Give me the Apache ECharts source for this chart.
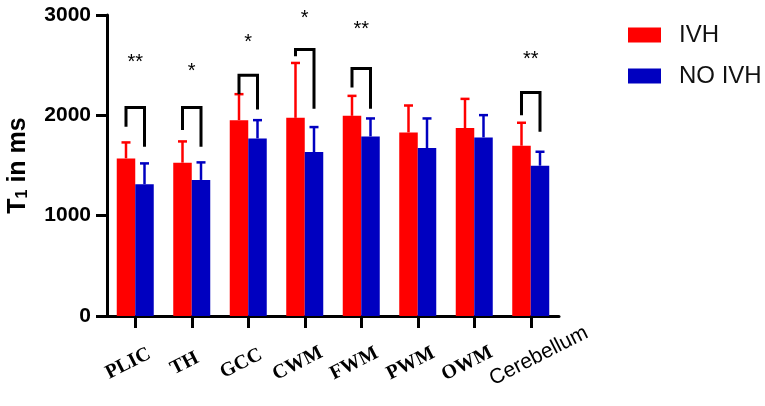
<!DOCTYPE html>
<html>
<head>
<meta charset="utf-8">
<script src="https://cdn.jsdelivr.net/npm/echarts@6/dist/echarts.min.js"></script>
<style>
  html, body { margin: 0; padding: 0; background: #fff; }
  #main { width: 765px; height: 406px; }
</style>
</head>
<body>
<div id="main"></div>
<script>
// regions along the x axis
var regions = ['PLIC', 'TH', 'GCC', 'CWM', 'FWM', 'PWM', 'OWM', 'Cerebellum'];

// mean T1 (ms) and top of the SD whisker
var ivhMean   = [1571, 1528, 1952, 1975, 1995, 1830, 1873, 1697];
var ivhUpper  = [1730, 1740, 2211, 2522, 2194, 2098, 2164, 1926];
var noMean    = [1313, 1356, 1770, 1634, 1790, 1674, 1780, 1498];
var noUpper   = [1521, 1531, 1952, 1883, 1969, 1969, 2002, 1637];

// significance brackets: category index, bracket top, left leg end, right leg end, star height, stars
var sigIndex  = [0, 1, 2, 3, 4, 7];
var sigTop    = [2078, 2078, 2400, 2655, 2466, 2227];
var sigLeft   = [1886, 1853, 2211, 2589, 2277, 2002];
var sigRight  = [1687, 1687, 2058, 2065, 2065, 1836];
var sigStarY  = [2526, 2433, 2731, 2963, 2854, 2556];
var sigStars  = ['**', '*', '*', '*', '**', '**'];

var yTicks = [0, 1000, 2000, 3000];

var RED = '#ff0000', BLUE = '#0000c0';
var GAP = 0.345; // barCategoryGap as a fraction

function barW(api) {
  return api.size([1, 0])[0] * (1 - GAP) / 2;
}

function errorSeries(name, means, uppers, color, side) {
  return {
    type: 'custom',
    name: name + ' SD',
    z: 1,
    data: means.map(function (m, i) { return [i, m, uppers[i]]; }),
    renderItem: function (params, api) {
      var w = barW(api);
      var base = api.coord([api.value(0), api.value(1)]);
      var top = api.coord([api.value(0), api.value(2)]);
      var x = base[0] + side * w / 2;
      var s = { stroke: color, lineWidth: 2.5 };
      return {
        type: 'group',
        children: [
          { type: 'line', shape: { x1: x, y1: base[1], x2: x, y2: top[1] }, style: s },
          { type: 'line', shape: { x1: x - 4.5, y1: top[1], x2: x + 4.5, y2: top[1] }, style: s }
        ]
      };
    }
  };
}

var chart = echarts.init(document.getElementById('main'));

var option = {
  animation: false,
  backgroundColor: '#fff',
  grid: { left: 107, right: 206, top: 15, bottom: 90, containLabel: false, outerBoundsMode: 'none' },
  legend: {
    orient: 'vertical',
    left: 628,
    top: 23,
    padding: 0,
    itemWidth: 33,
    itemHeight: 15,
    itemGap: 17,
    icon: 'rect',
    data: ['IVH', 'NO IVH'],
    textStyle: {
      fontFamily: 'Liberation Sans, Arial, sans-serif',
      fontSize: 24,
      color: '#111',
      padding: [0, 0, 0, 13]
    }
  },
  xAxis: {
    type: 'category',
    data: regions,
    axisLine: { show: true, lineStyle: { color: '#000', width: 3 } },
    axisTick: { show: true, alignWithLabel: true, length: 12, lineStyle: { color: '#000', width: 3 } },
    axisLabel: {
      interval: 0,
      rotate: 27,
      margin: 44,
      align: 'center',
      verticalAlign: 'middle',
      formatter: function (v) {
        return v === 'Cerebellum' ? '{c|' + v + '}' : '{s|' + v + '}';
      },
      rich: {
        s: { fontFamily: 'Liberation Serif, Times New Roman, serif', fontWeight: 'bold', fontSize: 20, color: '#000', padding: [0, 16, 0, 0] },
        c: { fontFamily: 'Liberation Sans, Arial, sans-serif', fontWeight: 'normal', fontSize: 21, color: '#000', padding: [0, 0, 0, 18] }
      }
    },
    splitLine: { show: false }
  },
  yAxis: {
    type: 'value',
    min: yTicks[0],
    max: yTicks[yTicks.length - 1],
    interval: 1000,
    name: '{t|T}{sub|1}{t| in ms}',
    nameLocation: 'middle',
    nameGap: 76,
    nameTextStyle: {
      rich: {
        t: { fontFamily: 'Liberation Sans, Arial, sans-serif', fontWeight: 'bold', fontSize: 25, color: '#000' },
        sub: { fontFamily: 'Liberation Sans, Arial, sans-serif', fontWeight: 'bold', fontSize: 16, color: '#000', verticalAlign: 'bottom', padding: [10, 0, 0, 0] }
      }
    },
    axisLine: { show: true, lineStyle: { color: '#000', width: 3 } },
    axisTick: { show: true, length: 11, lineStyle: { color: '#000', width: 3 } },
    axisLabel: {
      margin: 16,
      fontFamily: 'Liberation Sans, Arial, sans-serif',
      fontWeight: 'bold',
      fontSize: 21,
      color: '#000',
      formatter: function (v) { return String(v); }
    },
    splitLine: { show: false }
  },
  series: [
    {
      name: 'IVH',
      type: 'bar',
      data: ivhMean,
      barGap: '0%',
      barCategoryGap: (GAP * 100) + '%',
      itemStyle: { color: RED },
      z: 2
    },
    {
      name: 'NO IVH',
      type: 'bar',
      data: noMean,
      itemStyle: { color: BLUE },
      z: 2
    },
    errorSeries('IVH', ivhMean, ivhUpper, RED, -1),
    errorSeries('NO IVH', noMean, noUpper, BLUE, 1),
    {
      type: 'custom',
      name: 'significance',
      z: 3,
      data: sigIndex.map(function (c, i) { return [c, sigTop[i], sigLeft[i], sigRight[i], sigStarY[i], i]; }),
      renderItem: function (params, api) {
        var w = barW(api);
        var c = api.value(0);
        var top = api.coord([c, api.value(1)]);
        var lb = api.coord([c, api.value(2)]);
        var rb = api.coord([c, api.value(3)]);
        var star = api.coord([c, api.value(4)]);
        var xl = top[0] - w / 2, xr = top[0] + w / 2;
        return {
          type: 'group',
          children: [
            {
              type: 'polyline',
              shape: { points: [[xl, lb[1]], [xl, top[1]], [xr, top[1]], [xr, rb[1]]] },
              style: { stroke: '#000', lineWidth: 3, fill: null }
            },
            {
              type: 'text',
              x: star[0],
              y: star[1],
              style: {
                text: sigStars[api.value(5)],
                fontSize: 20,
                fontFamily: 'Liberation Sans, Arial, sans-serif',
                fill: '#000',
                align: 'center',
                verticalAlign: 'middle'
              }
            }
          ]
        };
      }
    }
  ]
};

chart.setOption(option);
</script>
</body>
</html>
